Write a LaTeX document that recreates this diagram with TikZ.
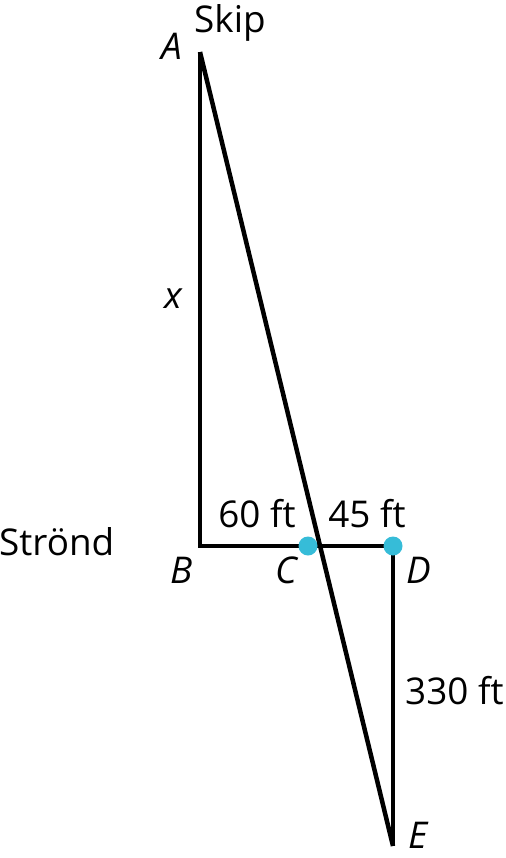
\documentclass[tikz,border=0pt]{standalone}
\usepackage{fontspec}
\setmainfont{Open Sans}
\definecolor{dotblue}{RGB}{54,188,216}
\begin{document}
\begin{tikzpicture}[x=1bp,y=-1bp,
  seg/.style={line width=4.5bp,line join=miter},
  lbl/.style={font=\fontsize{37}{40}\selectfont,inner sep=0pt},
  vlbl/.style={font=\fontsize{37}{40}\selectfont\itshape,inner sep=0pt},
  pt/.style={circle,fill=dotblue,minimum size=19bp,inner sep=0pt}]
\useasboundingbox (0,0) rectangle (506,858);
\coordinate (A) at (200,52);
\coordinate (B) at (200,546);
\coordinate (D) at (393,546);
\coordinate (E) at (393,846);
\draw[seg] (A) -- (B) -- (D) -- (E);
\draw[seg] (A) -- (E);
\node[pt] (C) at (308,546) {};
\node[pt] (Dd) at (D) {};
\node[lbl,anchor=base west] (skip) at (194,32) {Skip};
\node[vlbl,anchor=base] (la) at (172,59) {A};
\node[vlbl,anchor=base] (lx) at (173,308) {x};
\node[lbl,anchor=base west] (strond) at (-1,555) {Strönd};
\node[vlbl,anchor=base] (lb) at (182,583) {B};
\node[vlbl,anchor=base] (lc) at (286,583) {C};
\node[vlbl,anchor=base] (ld) at (419,583) {D};
\node[vlbl,anchor=base] (le) at (418,848) {E};
\node[lbl,anchor=base] (s60) at (257,527) {60 ft};
\node[lbl,anchor=base] (s45) at (367,527) {45 ft};
\node[lbl,anchor=base west] (s330) at (405,704) {330 ft};
\end{tikzpicture}
\end{document}
